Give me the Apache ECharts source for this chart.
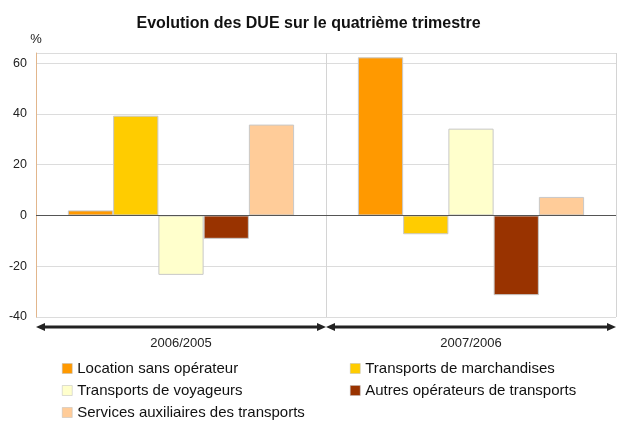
<!DOCTYPE html>
<html>
<head>
<meta charset="utf-8">
<script src="https://cdn.jsdelivr.net/npm/echarts@6/dist/echarts.min.js"></script>
<style>
  html, body { margin: 0; padding: 0; background: #fff; }
  #chart { width: 617px; height: 421px; }
</style>
</head>
<body>
<div id="chart"></div>
<script>
// periodes
var periods = ['2006/2005', '2007/2006'];
// secteurs (une serie par secteur)
var sectors = [
    'Location sans opérateur',
    'Transports de marchandises',
    'Transports de voyageurs',
    'Autres opérateurs de transports',
    'Services auxiliaires des transports'
];
var locationValues = [2.0, 62.3];
var marchandisesValues = [39.3, -7.4];
var voyageursValues = [-23.4, 34.2];
var autresValues = [-9.2, -31.4];
var servicesValues = [35.8, 7.3];
var yTicks = [-40, -20, 0, 20, 40, 60];

var colors = ['#ff9900', '#ffcc00', '#ffffcc', '#993300', '#ffcc99'];
var allValues = [locationValues, marchandisesValues, voyageursValues, autresValues, servicesValues];

var myChart = echarts.init(document.getElementById('chart'));

var series = sectors.map(function (name, i) {
    var s = {
        name: name,
        type: 'bar',
        barGap: 0,
        barCategoryGap: '22%',
        itemStyle: {
            color: colors[i],
            borderColor: '#c8c8c8',
            borderWidth: 1
        },
        data: allValues[i]
    };
    if (i === 0) {
        // ligne du zero
        s.markLine = {
            silent: true,
            symbol: 'none',
            label: {show: false},
            lineStyle: {color: '#555', width: 1, type: 'solid'},
            data: [{yAxis: 0}]
        };
    }
    return s;
});

var textFont = 'Liberation Sans, Arial, sans-serif';

function legendCol(left, names) {
    return {
        left: left,
        top: 356,
        height: 70,
        orient: 'vertical',
        itemWidth: 10,
        itemHeight: 10,
        itemGap: 7,
        icon: 'rect',
        itemStyle: {borderColor: '#bbb', borderWidth: 0.5},
        textStyle: {fontSize: 15, color: '#111', fontFamily: textFont},
        data: names
    };
}

var option = {
    animation: false,
    title: {
        text: 'Evolution des DUE sur le quatrième trimestre',
        left: 'center',
        top: 11,
        textStyle: {fontSize: 16, fontWeight: 'bold', color: '#111', fontFamily: textFont}
    },
    legend: [
        legendCol(57, [sectors[0], sectors[2], sectors[4]]),
        legendCol(345, [sectors[1], sectors[3]])
    ],
    grid: {left: 36, right: 1, top: 53, bottom: 104},
    xAxis: {
        type: 'category',
        data: periods,
        axisLine: {show: false},
        axisTick: {show: false},
        axisLabel: {margin: 20, fontSize: 13, color: '#222', fontFamily: textFont},
        splitLine: {show: true, lineStyle: {color: '#d4d4d4', width: 1}}
    },
    yAxis: {
        type: 'value',
        min: yTicks[0],
        max: 64,
        interval: 20,
        name: '%',
        nameLocation: 'end',
        nameGap: 7,
        nameTextStyle: {fontSize: 13, color: '#222', align: 'center', fontFamily: textFont},
        axisLine: {show: true, lineStyle: {color: '#e2b68c', width: 1}},
        axisTick: {show: false},
        axisLabel: {
            fontSize: 12.5, color: '#222', margin: 9, fontFamily: textFont,
            showMaxLabel: false,
            formatter: function (v) { return yTicks.indexOf(v) >= 0 ? String(v) : ''; }
        },
        splitLine: {show: true, lineStyle: {color: '#dcdcdc', width: 1}}
    },
    series: series
};
myChart.setOption(option);

// fleches sous chaque periode
var c0 = myChart.convertToPixel({xAxisIndex: 0}, periods[0]);
var c1 = myChart.convertToPixel({xAxisIndex: 0}, periods[1]);
var w = c1 - c0;
var bounds = [[c0 - w / 2, c0 + w / 2], [c1 - w / 2, c1 + w / 2]];
var ay = myChart.convertToPixel({yAxisIndex: 0}, yTicks[0]) + 10;
var graphics = [];
bounds.forEach(function (b) {
    var x1 = b[0], x2 = b[1], h = 9, hh = 4;
    graphics.push({
        type: 'line',
        shape: {x1: x1 + h - 2, y1: ay, x2: x2 - h + 2, y2: ay},
        style: {stroke: '#222', lineWidth: 3},
        silent: true
    });
    graphics.push({
        type: 'polygon',
        shape: {points: [[x1, ay], [x1 + h, ay - hh], [x1 + h, ay + hh]]},
        style: {fill: '#222'},
        silent: true
    });
    graphics.push({
        type: 'polygon',
        shape: {points: [[x2, ay], [x2 - h, ay - hh], [x2 - h, ay + hh]]},
        style: {fill: '#222'},
        silent: true
    });
});
myChart.setOption({graphic: graphics});
</script>
</body>
</html>
